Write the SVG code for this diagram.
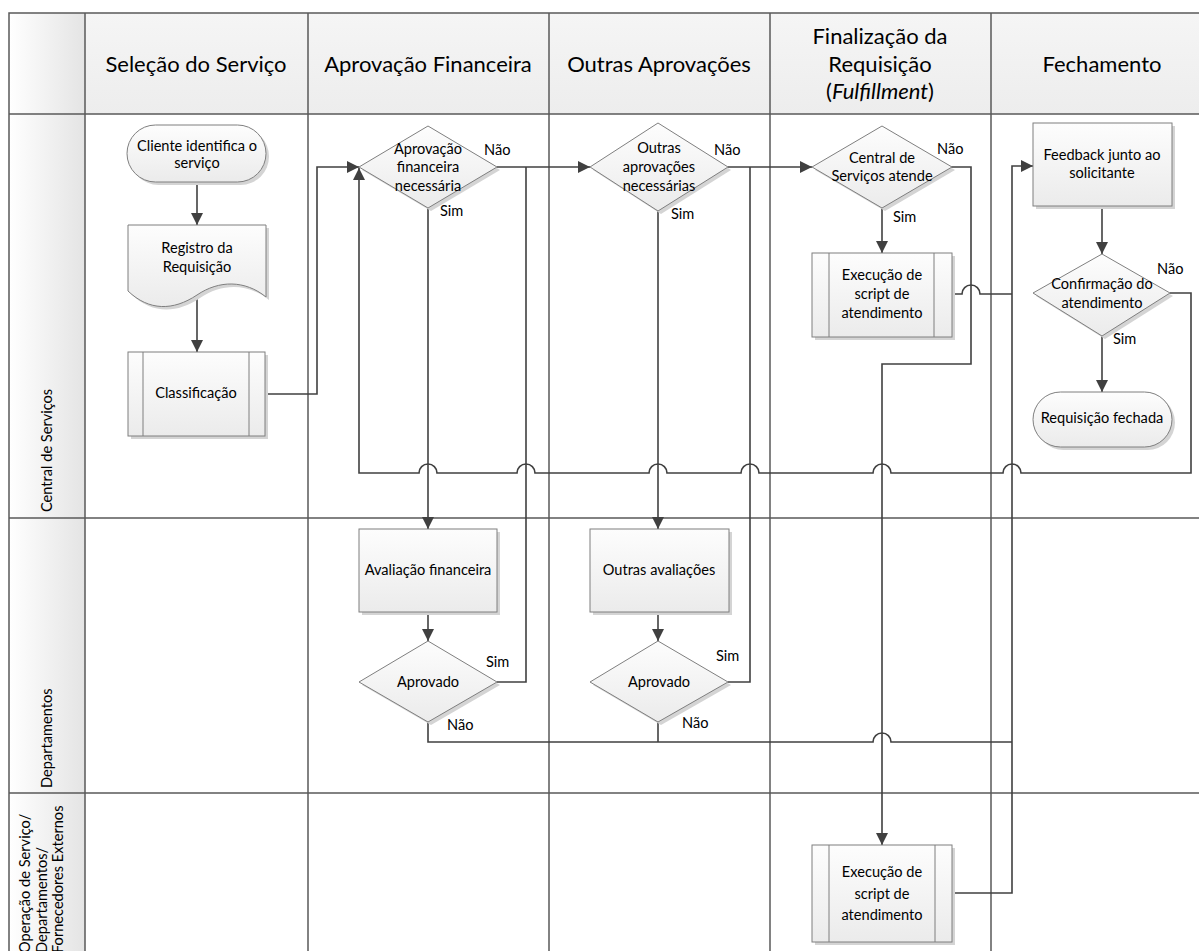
<svg xmlns="http://www.w3.org/2000/svg" width="1199" height="951" viewBox="0 0 1199 951">
<style>
.grid{fill:none;stroke:#5a5a5a;stroke-width:1.5}
.node{fill:url(#ng);stroke:#7f7f7f;stroke-width:1}
.sub{fill:none;stroke:#7f7f7f;stroke-width:1}
.sh{fill:#d4d4d4}
.t{font-family:Lato,"Liberation Sans",sans-serif;font-size:14.6px;fill:#000;text-anchor:middle}
.h{font-size:22px}
.lab{font-family:Lato,"Liberation Sans",sans-serif;font-size:14.6px;fill:#000}
.conn{fill:none;stroke:#404040;stroke-width:1.6}
</style>
<defs>
<linearGradient id="ng" x1="0" y1="0" x2="0" y2="1"><stop offset="0" stop-color="#fdfdfd"/><stop offset="1" stop-color="#ebebeb"/></linearGradient>
<linearGradient id="hg" x1="0" y1="0" x2="0" y2="1"><stop offset="0" stop-color="#f5f5f5"/><stop offset="1" stop-color="#ededed"/></linearGradient>
<linearGradient id="lg" x1="0" y1="0" x2="1" y2="0"><stop offset="0" stop-color="#ffffff"/><stop offset="1" stop-color="#e4e4e4"/></linearGradient>
<marker id="arr" markerWidth="12" markerHeight="12" refX="12" refY="6" orient="auto" markerUnits="userSpaceOnUse"><path d="M0,0 L12,6 L0,12 z" fill="#404040"/></marker>
</defs>
<rect x="0" y="0" width="1199" height="951" fill="#fff"/>
<g id="pool">
<rect x="9" y="13" width="1205" height="101" fill="url(#hg)"/>
<rect x="9" y="13" width="76" height="947" fill="url(#lg)"/>
<path class="grid" d="M9,960 V13 H1214 M9,114 H1214 M9,518 H1214 M9,793 H1214 M85,13 V960 M308,13 V960 M549,13 V960 M770,13 V960 M991,13 V960"/>
<text class="t h" x="196" y="72">Seleção do Serviço</text>
<text class="t h" x="428" y="72">Aprovação Financeira</text>
<text class="t h" x="659" y="72">Outras Aprovações</text>
<text class="t h" x="880" y="44">Finalização da</text>
<text class="t h" x="880" y="72">Requisição</text>
<text class="t h" x="880" y="99">(<tspan font-style="italic">Fulfillment</tspan>)</text>
<text class="t h" x="1102" y="72">Fechamento</text>
<text class="lab" transform="translate(52,512) rotate(-90)">Central de Serviços</text>
<text class="lab" transform="translate(52,788) rotate(-90)">Departamentos</text>
<text class="lab" transform="translate(30,953) rotate(-90)">Operação de Serviço/</text>
<text class="lab" transform="translate(47,953) rotate(-90)">Departamentos/</text>
<text class="lab" transform="translate(63,953) rotate(-90)">Fornecedores Externos</text>
</g>
<g id="connectors">
<path class="conn" d="M197,182 V225" marker-end="url(#arr)"/>
<path class="conn" d="M197,296 V352" marker-end="url(#arr)"/>
<path class="conn" d="M265,394 H317 V167 H359" marker-end="url(#arr)"/>
<path class="conn" d="M1170,293 H1191 V473 H1021 A9,9 0 0 0 1003,473 H891 A9,9 0 0 0 873,473 H759 A9,9 0 0 0 741,473 H667 A9,9 0 0 0 649,473 H535 A9,9 0 0 0 517,473 H437 A9,9 0 0 0 419,473 H359 V168" marker-end="url(#arr)"/>
<path class="conn" d="M497,167 H590" marker-end="url(#arr)"/>
<path class="conn" d="M497,682 H526 V167"/>
<path class="conn" d="M428,208 V529" marker-end="url(#arr)"/>
<path class="conn" d="M428,612 V641" marker-end="url(#arr)"/>
<path class="conn" d="M428,722 V742 H873 A9,9 0 0 1 891,742 H1012"/>
<path class="conn" d="M658,722 V742"/>
<path class="conn" d="M728,167 H812" marker-end="url(#arr)"/>
<path class="conn" d="M728,682 H750 V167"/>
<path class="conn" d="M658,211 V529" marker-end="url(#arr)"/>
<path class="conn" d="M658,612 V641" marker-end="url(#arr)"/>
<path class="conn" d="M882,208 V253" marker-end="url(#arr)"/>
<path class="conn" d="M949,167 H971 V364 H882 V845" marker-end="url(#arr)"/>
<path class="conn" d="M952,294 H962 A9,9 0 0 1 980,294 H1012"/>
<path class="conn" d="M952,893 H1012 V166 H1033" marker-end="url(#arr)"/>
<path class="conn" d="M1102,206 V254" marker-end="url(#arr)"/>
<path class="conn" d="M1102,336 V392" marker-end="url(#arr)"/>
</g>
<g id="n-cliente">
<rect class="sh" x="130" y="128" width="139" height="57" rx="28.5"/>
<rect class="node" x="127" y="125" width="139" height="57" rx="28.5"/>
<text class="t" x="197" y="151">Cliente identifica o</text>
<text class="t" x="197" y="168">serviço</text>
</g>
<g id="n-registro">
<path class="sh" d="M131,228 H269 V300 C248,283 222,283 200,298 C176,314 152,314 131,294 Z"/>
<path class="node" d="M128,225 H266 V297 C245,280 219,280 197,295 C173,311 149,311 128,291 Z"/>
<text class="t" x="197" y="253">Registro da</text>
<text class="t" x="197" y="272">Requisição</text>
</g>
<g id="n-classificacao">
<rect class="sh" x="131" y="355" width="137" height="84"/>
<rect class="node" x="128" y="352" width="137" height="84"/>
<path class="sub" d="M143,352 V436 M249,352 V436"/>
<text class="t" x="196" y="398">Classificação</text>
</g>
<g id="n-aprov-fin">
<path class="sh" d="M362,170 L431,129 L500,170 L431,211 Z"/>
<path class="node" d="M359,167 L428,126 L497,167 L428,208 Z"/>
<text class="t" x="428" y="154">Aprovação</text>
<text class="t" x="428" y="172">financeira</text>
<text class="t" x="428" y="191">necessária</text>
<text class="lab" x="484" y="155">Não</text>
<text class="lab" x="440" y="216">Sim</text>
</g>
<g id="n-outras-aprov">
<path class="sh" d="M593,170 L661,126 L731,170 L661,214 Z"/>
<path class="node" d="M590,167 L658,123 L728,167 L658,211 Z"/>
<text class="t" x="659" y="153">Outras</text>
<text class="t" x="659" y="172">aprovações</text>
<text class="t" x="659" y="191">necessárias</text>
<text class="lab" x="714" y="155">Não</text>
<text class="lab" x="671" y="219">Sim</text>
</g>
<g id="n-central-atende">
<path class="sh" d="M815,170 L885,129 L955,170 L885,211 Z"/>
<path class="node" d="M812,167 L882,126 L952,167 L882,208 Z"/>
<text class="t" x="882" y="163">Central de</text>
<text class="t" x="882" y="181">Serviços atende</text>
<text class="lab" x="937" y="154">Não</text>
<text class="lab" x="893" y="222">Sim</text>
</g>
<g id="n-exec1">
<rect class="sh" x="815" y="256" width="140" height="84"/>
<rect class="node" x="812" y="253" width="140" height="84"/>
<path class="sub" d="M829,253 V337 M934,253 V337"/>
<text class="t" x="882" y="280">Execução de</text>
<text class="t" x="882" y="299">script de</text>
<text class="t" x="882" y="318">atendimento</text>
</g>
<g id="n-feedback">
<rect class="sh" x="1036" y="126" width="139" height="83"/>
<rect class="node" x="1033" y="123" width="139" height="83"/>
<text class="t" x="1102" y="160">Feedback junto ao</text>
<text class="t" x="1102" y="178">solicitante</text>
</g>
<g id="n-confirmacao">
<path class="sh" d="M1036,296 L1105,257 L1173,296 L1105,339 Z"/>
<path class="node" d="M1033,293 L1102,254 L1170,293 L1102,336 Z"/>
<text class="t" x="1102" y="289">Confirmação do</text>
<text class="t" x="1102" y="308">atendimento</text>
<text class="lab" x="1157" y="274">Não</text>
<text class="lab" x="1113" y="344">Sim</text>
</g>
<g id="n-fechada">
<rect class="sh" x="1036" y="395" width="139" height="55" rx="27.5"/>
<rect class="node" x="1033" y="392" width="139" height="55" rx="27.5"/>
<text class="t" x="1102" y="423">Requisição fechada</text>
</g>
<g id="n-aval-fin">
<rect class="sh" x="362" y="532" width="138" height="83"/>
<rect class="node" x="359" y="529" width="138" height="83"/>
<text class="t" x="428" y="575">Avaliação financeira</text>
</g>
<g id="n-aprovado1">
<path class="sh" d="M362,685 L431,644 L500,685 L431,725 Z"/>
<path class="node" d="M359,682 L428,641 L497,682 L428,722 Z"/>
<text class="t" x="428" y="687">Aprovado</text>
<text class="lab" x="486" y="667">Sim</text>
<text class="lab" x="447" y="730">Não</text>
</g>
<g id="n-outras-aval">
<rect class="sh" x="593" y="532" width="139" height="83"/>
<rect class="node" x="590" y="529" width="139" height="83"/>
<text class="t" x="659" y="575">Outras avaliações</text>
</g>
<g id="n-aprovado2">
<path class="sh" d="M593,685 L661,644 L731,685 L661,725 Z"/>
<path class="node" d="M590,682 L658,641 L728,682 L658,722 Z"/>
<text class="t" x="659" y="687">Aprovado</text>
<text class="lab" x="716" y="661">Sim</text>
<text class="lab" x="682" y="728">Não</text>
</g>
<g id="n-exec2">
<rect class="sh" x="815" y="848" width="140" height="97"/>
<rect class="node" x="812" y="845" width="140" height="97"/>
<path class="sub" d="M829,845 V942 M935,845 V942"/>
<text class="t" x="882" y="877">Execução de</text>
<text class="t" x="882" y="899">script de</text>
<text class="t" x="882" y="920">atendimento</text>
</g>
</svg>
